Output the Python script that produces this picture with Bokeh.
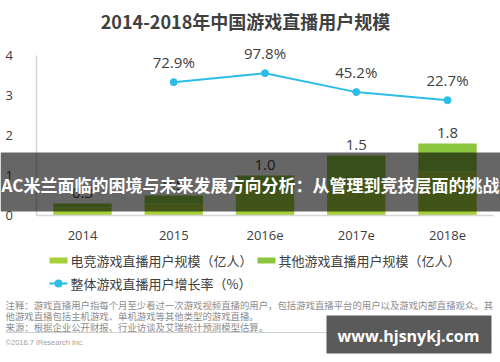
from bokeh.plotting import figure
from bokeh.models import (ColumnDataSource, Range1d, Label, BoxAnnotation, FixedTicker)
from bokeh.embed import file_html
from bokeh.resources import INLINE
from bokeh.core.properties import value

# ---------------- data ----------------
years = ["2014", "2015", "2016e", "2017e", "2018e"]
esports_users = [0.2, 0.3, 0.6, 0.9, 1.1]   # 电竞游戏直播用户规模（亿人）
other_users = [0.1, 0.2, 0.4, 0.6, 0.7]     # 其他游戏直播用户规模（亿人）
growth_years = ["2015", "2016e", "2017e", "2018e"]
growth_rate = [72.9, 97.8, 45.2, 22.7]      # 整体游戏直播用户增长率（%）
y_ticks = [0, 1, 2, 3, 4]

title_text = "2014-2018年中国游戏直播用户规模"
legend_labels = ["电竞游戏直播用户规模（亿人）", "其他游戏直播用户规模（亿人）", "整体游戏直播用户增长率（%）"]
notes = ["注释：游戏直播用户指每个月至少看过一次游戏视频直播的用户，包括游戏直播平台的用户以及游戏内部直播观众。其",
         "他游戏直播包括主机游戏、单机游戏等其他类型的游戏直播。",
         "来源：根据企业公开财报、行业访谈及艾瑞统计预测模型估算。"]
overlay_text = "AC米兰面临的困境与未来发展方向分析：从管理到竞技层面的挑战"
watermark = "www.hjsnykj.com"

# ---------------- styles ----------------
CJK = "Noto Sans CJK SC"
NUM = "Open Sans"
C_ES = "#a6cf3a"
C_OT = "#8cc63f"
C_LINE = "#2bbde8"
C_TXT = "#404040"

W, H = 500, 362
totals = [a + b for a, b in zip(esports_users, other_users)]
xpos = list(range(len(years)))
gxpos = [years.index(y) for y in growth_years]

src = ColumnDataSource(dict(x=xpos, esports=esports_users, other=other_users,
                            total=totals, total_lbl=[f"{t:.1f}" for t in totals]))
gsrc = ColumnDataSource(dict(x=gxpos, rate=growth_rate,
                             lbl=[f"{v}%" for v in growth_rate]))

# frame covers whole canvas; axes drawn at fixed locations inside it
p = figure(width=W, height=H, x_range=Range1d(-0.8986, 4.5808), y_range=Range1d(-3.675, 5.375),
           output_backend="svg", toolbar_location=None, title=None, min_border=0)
p.extra_y_ranges = {"rate": Range1d(-706.9, 300.0)}
p.outline_line_color = None
p.xgrid.grid_line_color = None
p.ygrid.grid_line_color = None
p.background_fill_color = "white"
p.border_fill_color = "white"

p.xaxis.fixed_location = 0
p.xaxis.bounds = (-0.5, 4.5)
p.xaxis.ticker = FixedTicker(ticks=xpos)
p.xaxis.major_label_overrides = {i: y for i, y in zip(xpos, years)}
p.yaxis.fixed_location = -0.5
p.yaxis.bounds = (0, 4)
p.yaxis.ticker = FixedTicker(ticks=y_ticks)
for ax in (p.xaxis[0], p.yaxis[0]):
    ax.axis_line_color = "#d6d6d6"
    ax.axis_line_width = 1.5
    ax.major_tick_line_color = None
    ax.minor_tick_line_color = None
    ax.major_label_text_font = NUM
    ax.major_label_text_font_size = "13px"
    ax.major_label_text_color = C_TXT
p.yaxis.major_label_standoff = 18
p.xaxis.major_label_standoff = 9

# bars
r_es, r_ot = p.vbar_stack(["esports", "other"], x="x", width=0.64, color=[C_ES, C_OT],
                          line_color=None, source=src)
p.text(x="x", y="total", text="total_lbl", source=src, text_align="center",
       text_baseline="bottom", y_offset=-6, text_font=value(NUM), text_font_size="15px",
       text_color=C_TXT)

# growth line
p.line(x="x", y="rate", source=gsrc, y_range_name="rate", line_color=C_LINE, line_width=2)
p.scatter(x="x", y="rate", source=gsrc, y_range_name="rate", size=7,
          fill_color=C_LINE, line_color=C_LINE)
p.text(x="x", y="rate", text="lbl", source=gsrc, y_range_name="rate", text_align="center",
       text_baseline="bottom", y_offset=-10, text_font=value(NUM), text_font_size="15px",
       text_color=C_TXT)


def box(l, r, t, b, color, alpha=1.0, radius=0):
    # l, r, t, b in canvas pixels from top-left
    p.add_layout(BoxAnnotation(left=l, right=r, top=H - t, bottom=H - b,
                               left_units="screen", right_units="screen",
                               top_units="screen", bottom_units="screen",
                               fill_color=color, fill_alpha=alpha, line_color=None,
                               border_radius=radius))


def label(x, y, text, size, color=C_TXT, font=CJK, align="left", style="normal"):
    p.add_layout(Label(x=x, y=H - y, x_units="screen", y_units="screen", text=text,
                       text_align=align, text_baseline="middle", text_font=font,
                       text_font_size=size, text_font_style=style, text_color=color))


# title
label(245, 20, title_text, "18px", align="center", style="bold")

# legend
box(49, 67, 257, 263, C_ES)
label(70, 260, legend_labels[0], "13px")
box(257, 275, 257, 263, C_OT)
label(278, 260, legend_labels[1], "13px")
box(49, 67, 282, 284, C_LINE)
box(54, 62, 279, 287, C_LINE, radius=4)
label(70, 283, legend_labels[2], "13px")

# notes
for yy, t in zip([304, 315, 326], notes):
    label(5, yy, t, "9.4px", color="#8c8c8c")
box(5, 490, 331.5, 332.5, "#d0d0d0")
label(5, 342, "©2016.7 iResearch Inc.", "7.5px", color="#a0a0a0", font="Liberation Sans")
label(491, 342, "www.iresearch.com.cn", "7.5px", color="#a0a0a0", font="Liberation Sans",
      align="right")

# overlay band
box(0, W, 152, 211, "black", alpha=0.6)
label(250, 184, overlay_text, "17px", color="white", align="center", style="bold")

# watermark
box(326, 491, 315, 353, "#5a5a5a")
label(408, 335, watermark, "16px", color="white", font=NUM, align="center", style="bold")

open("out.html", "w").write(file_html(p, INLINE))
